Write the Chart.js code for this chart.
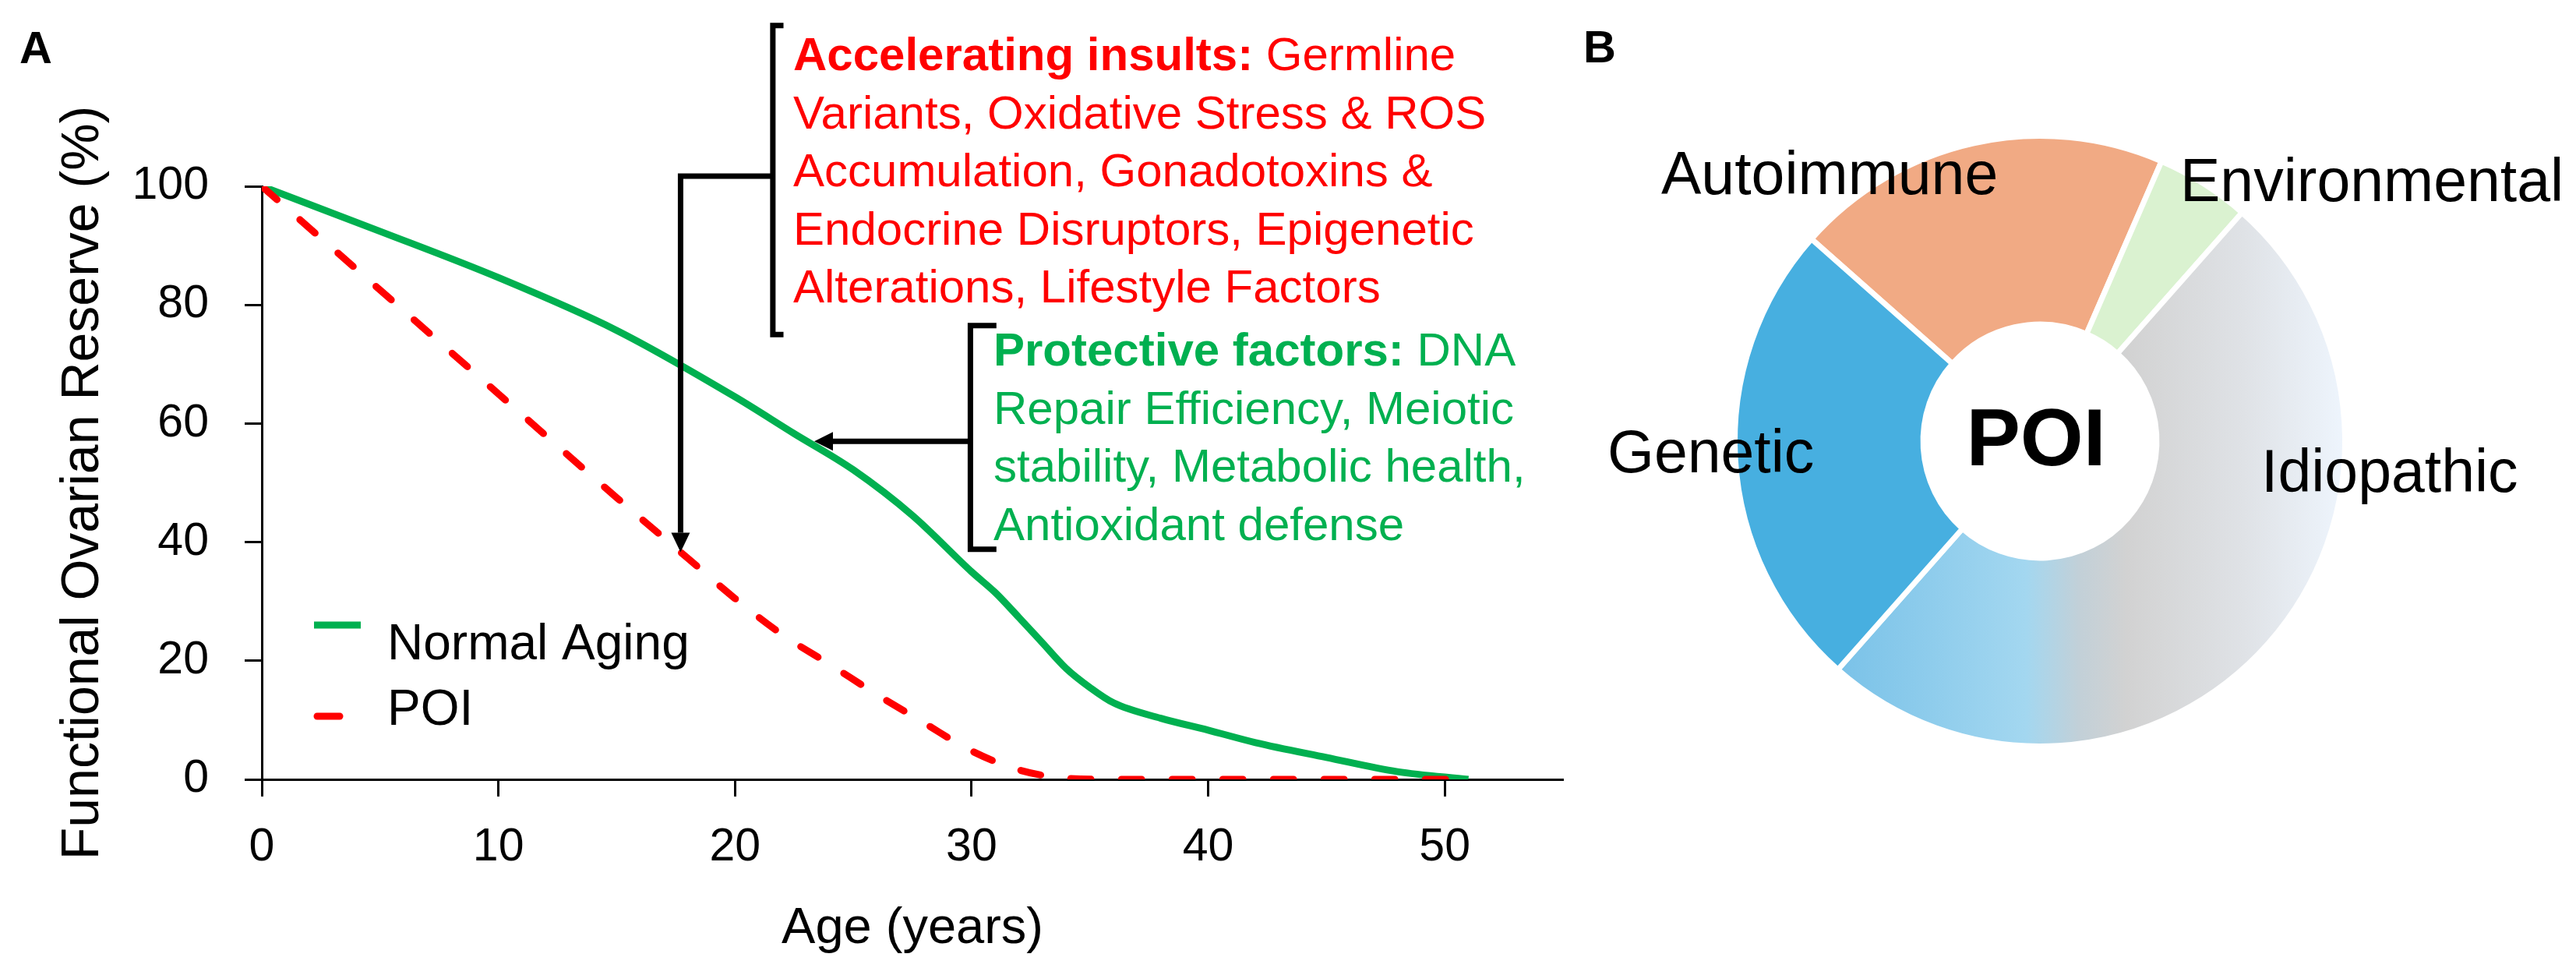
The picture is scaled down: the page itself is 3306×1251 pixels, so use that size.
<!DOCTYPE html>
<html>
<head>
<meta charset="utf-8">
<script src="https://cdn.jsdelivr.net/npm/chart.js@4.4.1/dist/chart.umd.min.js"></script>
<style>
  html, body { margin: 0; padding: 0; background: #fff; }
  #wrap { position: relative; width: 3306px; height: 1251px; overflow: hidden; font-family: "Liberation Sans", Arial, sans-serif; }
  canvas { position: absolute; top: 0; }
  #lineChart { left: 0; }
  #donutChart { left: 2030px; }
  .txt { position: absolute; white-space: pre; }
  .panel { font-weight: bold; font-size: 58px; line-height: 58px; color: #000; }
  .note { font-size: 60px; line-height: 74.5px; }
  .seg { font-size: 77px; line-height: 77px; color: #000; }
</style>
</head>
<body>
<div id="wrap">
  <canvas id="lineChart" width="2030" height="1251"></canvas>
  <canvas id="donutChart" width="1276" height="1251"></canvas>

  <div class="txt panel" style="left:25px;top:32px">A</div>
  <div class="txt panel" style="left:2032px;top:31px">B</div>

  <div class="txt note" style="left:1018px;top:33px;color:#FF0000"><b>Accelerating insults:</b> Germline
Variants, Oxidative Stress &amp; ROS
Accumulation, Gonadotoxins &amp;
Endocrine Disruptors, Epigenetic
Alterations, Lifestyle Factors</div>

  <div class="txt note" style="left:1275px;top:412px;color:#00B050"><b>Protective factors:</b> DNA
Repair Efficiency, Meiotic
stability, Metabolic health,
Antioxidant defense</div>

  <div class="txt seg" style="left:2132px;top:184px">Autoimmune</div>
  <div class="txt seg" style="left:2798px;top:193px">Environmental</div>
  <div class="txt seg" style="left:2063px;top:541px">Genetic</div>
  <div class="txt seg" style="left:2902px;top:566px">Idiopathic</div>
</div>

<script>
// panel A: functional ovarian reserve vs age
var normal_ages = [0, 5, 10, 15, 20, 22.5, 25, 27.5, 30, 31, 32, 33, 34, 35, 36, 38, 40, 42, 45, 48, 51];
var normal_reserve = [100, 92.4, 84.6, 75.7, 64.5, 58.3, 52.2, 44.5, 35, 31.5, 27.3, 23, 18.7, 15.5, 12.9, 10.3, 8.3, 6.2, 3.7, 1.3, 0];
var poi_ages = [0, 5, 10, 15, 18, 20, 22, 24, 26, 28, 30, 32, 34, 36, 40, 45, 51];
var poi_reserve = [100, 82.5, 65, 47.5, 37.3, 30.5, 24.4, 19.4, 14.3, 9.5, 4.8, 1.6, 0.2, 0, 0, 0, 0];
var x_ticks = [0, 10, 20, 30, 40, 50];
var y_ticks = [0, 20, 40, 60, 80, 100];

// panel B: causes of POI (share of cases, %)
var causes = ['Autoimmune', 'Environmental', 'Idiopathic', 'Genetic'];
var cause_share = [20, 5, 50, 25];

// arrows / brackets, in data units of panel A
var insult_arrow = { x: 17.7, yFrom: 101.7, yTo: 38.3 };
var insult_bracket = { x: 21.6, xEnd: 22.05, yTop: 127.1, yBottom: 75.0 };
var protect_bracket = { x: 29.95, xEnd: 31.05, yTop: 76.5, yBottom: 38.8, yJoin: 57.0 };
var protect_arrow = { xTo: 23.35 };

var FONT = '"Liberation Sans", Arial, sans-serif';
Chart.defaults.font.family = FONT;
Chart.defaults.color = '#000';

function toPoints(xs, ys) {
  var pts = [];
  for (var i in xs) pts.push({ x: xs[i], y: ys[i] });
  return pts;
}

function drawArrow(ctx, pts, headLen, headHalf) {
  var n = pts.length;
  var tip = pts[n - 1], prev = pts[n - 2];
  var a = Math.atan2(tip[1] - prev[1], tip[0] - prev[0]);
  var bx = tip[0] - headLen * Math.cos(a), by = tip[1] - headLen * Math.sin(a);
  ctx.beginPath();
  ctx.moveTo(pts[0][0], pts[0][1]);
  for (var i = 1; i < n - 1; i++) ctx.lineTo(pts[i][0], pts[i][1]);
  ctx.lineTo(bx, by);
  ctx.stroke();
  ctx.beginPath();
  ctx.moveTo(tip[0], tip[1]);
  ctx.lineTo(bx + headHalf * Math.sin(a), by - headHalf * Math.cos(a));
  ctx.lineTo(bx - headHalf * Math.sin(a), by + headHalf * Math.cos(a));
  ctx.closePath();
  ctx.fill();
}

function drawBracket(ctx, x, xEnd, yTop, yBottom) {
  ctx.beginPath();
  ctx.moveTo(xEnd, yTop);
  ctx.lineTo(x, yTop);
  ctx.lineTo(x, yBottom);
  ctx.lineTo(xEnd, yBottom);
  ctx.stroke();
}

var notesPlugin = {
  id: 'notes',
  afterDatasetsDraw: function(chart) {
    var ctx = chart.ctx;
    var xs = chart.scales.x, ys = chart.scales.y;
    var px = function(v) { return xs.getPixelForValue(v); };
    var py = function(v) { return ys.getPixelForValue(v); };
    ctx.save();
    ctx.strokeStyle = '#000';
    ctx.fillStyle = '#000';
    ctx.lineWidth = 7;
    ctx.lineJoin = 'miter';

    drawBracket(ctx, px(insult_bracket.x), px(insult_bracket.xEnd), py(insult_bracket.yTop), py(insult_bracket.yBottom));
    drawArrow(ctx, [
      [px(insult_bracket.x), py(insult_arrow.yFrom)],
      [px(insult_arrow.x), py(insult_arrow.yFrom)],
      [px(insult_arrow.x), py(insult_arrow.yTo)]
    ], 25, 12);

    drawBracket(ctx, px(protect_bracket.x), px(protect_bracket.xEnd), py(protect_bracket.yTop), py(protect_bracket.yBottom));
    drawArrow(ctx, [
      [px(protect_bracket.x), py(protect_bracket.yJoin)],
      [px(protect_arrow.xTo), py(protect_bracket.yJoin)]
    ], 24, 12);

    // legend inside the plot
    var left = chart.chartArea.left;
    ctx.lineCap = 'butt';
    ctx.lineWidth = 9;
    ctx.strokeStyle = '#00B050';
    ctx.beginPath(); ctx.moveTo(left + 67, 802); ctx.lineTo(left + 127, 802); ctx.stroke();
    ctx.strokeStyle = '#FF0000';
    ctx.lineCap = 'round';
    ctx.beginPath(); ctx.moveTo(left + 71, 919); ctx.lineTo(left + 100, 919); ctx.stroke();
    ctx.font = '64px ' + FONT;
    ctx.textBaseline = 'alphabetic';
    ctx.textAlign = 'left';
    ctx.fillText(chart.data.datasets[1].label, left + 161, 846);
    ctx.fillText(chart.data.datasets[0].label, left + 161, 930);
    ctx.restore();
  }
};

var axisGrid = { drawOnChartArea: false, drawTicks: true, tickLength: 22, tickWidth: 3, tickColor: '#000' };
var axisBorder = { display: true, color: '#000', width: 3 };

new Chart(document.getElementById('lineChart'), {
  type: 'line',
  data: {
    datasets: [
      {
        label: 'POI',
        data: toPoints(poi_ages, poi_reserve),
        borderColor: '#FF0000',
        borderWidth: 9,
        borderDash: [26, 39],
        borderCapStyle: 'round',
        pointRadius: 0,
        cubicInterpolationMode: 'monotone',
        fill: false,
        order: 0
      },
      {
        label: 'Normal Aging',
        data: toPoints(normal_ages, normal_reserve),
        borderColor: '#00B050',
        borderWidth: 9,
        pointRadius: 0,
        cubicInterpolationMode: 'monotone',
        fill: false,
        order: 1
      }
    ]
  },
  options: {
    responsive: false,
    animation: false,
    events: [],
    layout: { padding: { top: 239, right: 24, left: 0, bottom: 0 } },
    plugins: { legend: { display: false }, tooltip: { enabled: false } },
    scales: {
      x: {
        type: 'linear', min: 0, max: 55,
        afterBuildTicks: function(s) { s.ticks = x_ticks.map(function(v) { return { value: v }; }); },
        ticks: { color: '#000', font: { size: 59 }, padding: 30 },
        grid: axisGrid,
        border: axisBorder,
        title: { display: true, text: 'Age (years)', color: '#000', font: { size: 65 }, padding: { bottom: 20 } },
        afterFit: function(s) { s.height = 251; }
      },
      y: {
        type: 'linear', min: 0, max: 100,
        afterBuildTicks: function(s) { s.ticks = y_ticks.map(function(v) { return { value: v }; }); },
        ticks: { color: '#000', font: { size: 59 }, padding: 46 },
        grid: axisGrid,
        border: axisBorder,
        title: { display: true, text: 'Functional Ovarian Reserve (%)', color: '#000', font: { size: 68 }, padding: { top: 66 } },
        afterFit: function(s) { s.width = 336; }
      }
    }
  },
  plugins: [notesPlugin]
});

// horizontal blue -> grey -> white fill of the idiopathic slice
function idiopathicFill(c) {
  var chart = c.chart;
  var area = chart.chartArea;
  if (!area) return '#D0D0D0';
  var cx = (area.left + area.right) / 2;
  var r = chart.options.radius;
  var g = chart.ctx.createLinearGradient(cx - 0.661 * r, 0, cx + r, 0);
  g.addColorStop(0, '#7AC2E8');
  g.addColorStop(0.37, '#A3D7F0');
  g.addColorStop(0.475, '#C2D0D8');
  g.addColorStop(0.57, '#D2D2D2');
  g.addColorStop(0.8, '#DFE2E6');
  g.addColorStop(1, '#EEF5FD');
  return g;
}

var sliceColors = {
  Autoimmune: '#F1AA84',
  Environmental: '#DAF2D0',
  Genetic: '#47AFE0'
};

var centerLabel = {
  id: 'centerLabel',
  afterDraw: function(chart) {
    var arc = chart.getDatasetMeta(0).data[0];
    var ctx = chart.ctx;
    ctx.save();
    ctx.font = 'bold 104px ' + FONT;
    ctx.fillStyle = '#000';
    ctx.textAlign = 'center';
    ctx.textBaseline = 'alphabetic';
    ctx.fillText('POI', arc.x - 5, arc.y + 31);
    ctx.restore();
  }
};

new Chart(document.getElementById('donutChart'), {
  type: 'doughnut',
  data: {
    labels: causes,
    datasets: [{
      data: cause_share,
      backgroundColor: function(c) {
        var name = causes[c.dataIndex];
        return name === 'Idiopathic' ? idiopathicFill(c) : sliceColors[name];
      },
      borderColor: '#fff',
      borderWidth: 7
    }]
  },
  options: {
    responsive: false,
    animation: false,
    events: [],
    rotation: -48.5,
    radius: 391.5,
    cutout: '38.3%',
    layout: { padding: { left: 0, top: 0, right: 100, bottom: 119 } },
    plugins: { legend: { display: false }, tooltip: { enabled: false } }
  },
  plugins: [centerLabel]
});
</script>
</body>
</html>
